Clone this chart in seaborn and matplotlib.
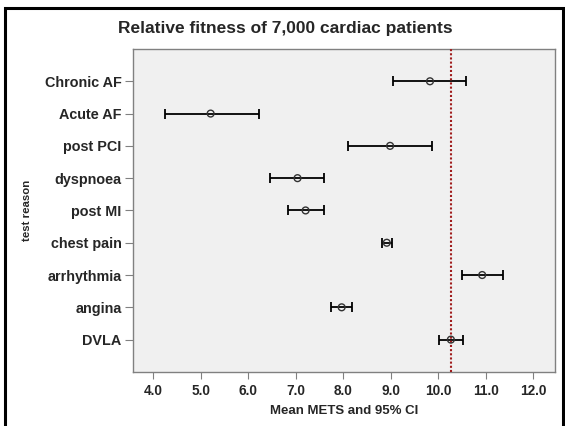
import numpy as np
import pandas as pd
import matplotlib
matplotlib.use("Agg")
import matplotlib.pyplot as plt
import seaborn as sns
from matplotlib.patches import Rectangle

# Values (mean METS with 95% CI)
reasons = ['Chronic AF', 'Acute AF', 'post PCI', 'dyspnoea', 'post MI',
           'chest pain', 'arrhythmia', 'angina', 'DVLA']
mean_mets = [9.83, 5.21, 8.99, 7.04, 7.21, 8.92, 10.93, 7.97, 10.27]
ci_low = [9.05, 4.24, 8.11, 6.46, 6.83, 8.81, 10.51, 7.75, 10.01]
ci_high = [10.58, 6.22, 9.87, 7.59, 7.60, 9.02, 11.37, 8.18, 10.52]
reference_mets = 10.27
x_ticks = [4.0, 5.0, 6.0, 7.0, 8.0, 9.0, 10.0, 11.0, 12.0]

df = pd.DataFrame({'reason': reasons, 'mean': mean_mets,
                   'low': ci_low, 'high': ci_high})

sns.set_style('ticks')
plt.rcParams['font.family'] = ['Liberation Sans', 'DejaVu Sans']
plt.rcParams['font.weight'] = 'bold'

fig = plt.figure(figsize=(5.65, 4.26), dpi=100)
ax = fig.add_axes([0.235, 0.127, 0.747, 0.758])
ax.set_facecolor('#f0f0f0')

# error bars
ypos = np.arange(len(df))
ax.errorbar(df['mean'], ypos,
            xerr=[df['mean'] - df['low'], df['high'] - df['mean']],
            fmt='none', ecolor='black', elinewidth=1.3, capsize=3.5,
            capthick=1.3, zorder=2)

# reference line
ax.axvline(reference_mets, color='#a01c1c', linestyle=(0, (1, 1)), lw=1.5, zorder=3)

# mean markers
sns.scatterplot(data=df, x='mean', y='reason', ax=ax, marker='o', s=24,
                facecolor='none', edgecolor='#333333', linewidth=1.0, zorder=4)

ax.set_xlim(3.57, 12.46)
ax.set_ylim(9, -1)
ax.set_xticks(x_ticks)
ax.set_xticklabels([f'{v:.1f}' for v in x_ticks], fontsize=9.8, fontweight='bold')
ax.set_yticks(ypos)
ax.set_yticklabels(reasons, fontsize=10.4, fontweight='bold')
ax.tick_params(axis='x', length=5, color='#808080', pad=4)
ax.tick_params(axis='y', length=6, color='#808080', pad=2)
for s in ax.spines.values():
    s.set_color('#808080')
    s.set_linewidth(1.0)

ax.set_xlabel('Mean METS and 95% CI', fontsize=9.5, fontweight='bold', labelpad=5)
ax.set_ylabel('test reason', fontsize=8.2, fontweight='bold', labelpad=9)

fig.text(0.505, 0.932, 'Relative fitness of 7,000 cardiac patients',
         ha='center', va='center', fontsize=12.5, fontweight='bold')

# outer frame
fig.patches.append(Rectangle((5 / 565, -0.05), 558 / 565, 1 - 8 / 426 + 0.05,
                             transform=fig.transFigure, fill=False,
                             edgecolor='black', linewidth=2.2, clip_on=False))

fig.savefig('out.png', dpi=100)
